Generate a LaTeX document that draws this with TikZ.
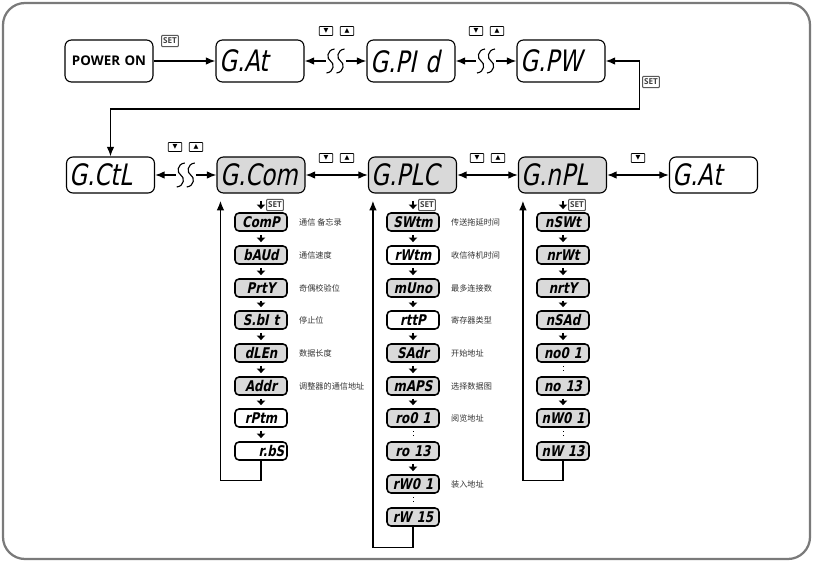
\documentclass[tikz,border=0pt]{standalone}
\usepackage{fontspec}
\setmainfont{Open Sans}
\newfontfamily\cjk{Noto Sans CJK SC}
\newfontfamily\symfont{DejaVu Sans}
\newfontfamily\segfont[FakeStretch=0.78, FakeSlant=0.2]{DejaVu Sans}
\newfontfamily\segbold[FakeStretch=0.8, FakeSlant=0.2]{DejaVu Sans Bold}
\usetikzlibrary{arrows.meta, calc}
\definecolor{dispgray}{HTML}{D9D9D9}
\definecolor{framegray}{HTML}{7A7A7A}

% arrow with the two S marks in the middle
\newcommand{\brkline}[3]{%
  \path (#1.east) -- (#2.west) coordinate[midway] (#3);
  \draw[link, ->] ($(#3)+(-10,0)$) -- (#1.east);
  \draw[link, ->] ($(#3)+(10,0)$) -- (#2.west);
  \draw[line width=0.8pt]
    ($(#3)+(-1,-12)$) .. controls ($(#3)+(-9,-11)$) and ($(#3)+(-9,-2)$) .. ($(#3)+(-5,0)$)
    .. controls ($(#3)+(-1,2)$) and ($(#3)+(-1,11)$) .. ($(#3)+(-9,12)$)
    ($(#3)+(9,-12)$) .. controls ($(#3)+(1,-11)$) and ($(#3)+(1,-2)$) .. ($(#3)+(5,0)$)
    .. controls ($(#3)+(9,2)$) and ($(#3)+(9,11)$) .. ($(#3)+(1,12)$);
}

\begin{document}
\begin{tikzpicture}[x=0.25mm, y=-0.25mm,
    >={Latex[length=2.4mm, width=1.9mm]},
    disp/.style={draw, rounded corners=1.6mm, line width=0.8pt, fill=white,
                 minimum width=22mm, minimum height=10.5mm, inner sep=0pt,
                 text width=20.4mm, align=left,
                 font=\segfont\fontsize{21}{21}\selectfont},
    low/.style={minimum height=9mm},
    lit/.style={fill=dispgray},
    start/.style={disp, align=center, font=\bfseries\fontsize{9.5}{9.5}\selectfont},
    sub/.style={draw, rounded corners=1mm, line width=1.1pt, fill=white,
                minimum width=13mm, minimum height=4.5mm, inner sep=0pt,
                text width=11.6mm, align=center,
                font=\segbold\fontsize{10.5}{10.5}\selectfont},
    note/.style={anchor=west, xshift=1.6mm, text=black!80,
                 font=\cjk\fontsize{5.8}{6}\selectfont},
    keybtn/.style={draw, rounded corners=0.5pt, line width=0.5pt,
                   minimum width=3.4mm, minimum height=2.3mm, inner sep=0pt,
                   font=\symfont\fontsize{4.5}{4.5}\selectfont},
    setbtn/.style={draw=black!65, rounded corners=0.6pt, line width=0.7pt,
                   minimum width=4.2mm, minimum height=2.8mm, inner sep=0pt,
                   text=black!75, font=\bfseries\fontsize{5.8}{5.8}\selectfont},
    link/.style={line width=1pt},
    dnarrow/.style={line width=1.7pt, -{Triangle[length=1.1mm, width=2.1mm]},
                    shorten <=0.8mm, shorten >=0.8mm},
    skip/.style={dotted, line width=0.7pt, shorten <=0.9mm, shorten >=0.9mm}
  ]
    \useasboundingbox (0,0) rectangle (813,561);
    \draw[framegray, line width=1.6pt, rounded corners=5.5mm] (3,3) rectangle (810,559);

    % first row
    \node[start] (pwr) at (109,61) {POWER ON};
    \node[disp] (gat) at (260,61) {G.At};
    \node[disp] (gpid) at (411,61) {G.PI d};
    \node[disp] (gpw) at (561,61) {G.PW};

    \draw[link, ->] (pwr) -- (gat);
    \node[setbtn] (set1) at (170,41) {SET};
    \brkline{gat}{gpid}{brk1}
    \brkline{gpid}{gpw}{brk2}
    \node[keybtn] (dn1) at (326,31) {▼};
    \node[keybtn] (up1) at (347,31) {▲};
    \node[keybtn] (dn2) at (476,31) {▼};
    \node[keybtn] (up2) at (497,31) {▲};

    % second row
    \node[disp, low] (gctl) at (110.5,175) {G.CtL};
    \node[disp, low, lit] (gcom) at (261,175) {G.Com};
    \node[disp, low, lit] (gplc) at (412.5,175) {G.PLC};
    \node[disp, low, lit] (gnpl) at (562.5,175) {G.nPL};
    \node[disp, low] (gatb) at (713.5,175) {G.At};

    \draw[link, <->] (gpw.east) -- ++(34,0) -- ++(0,48) -| (gctl.north);
    \node[setbtn] (set2) at (651,82) {SET};

    \brkline{gctl}{gcom}{brk3}
    \node[keybtn] (dn3) at (175,147) {▼};
    \node[keybtn] (up3) at (196,147) {▲};
    \draw[link, <->] (gcom) -- (gplc);
    \node[keybtn] (dn4) at (326,158) {▼};
    \node[keybtn] (up4) at (347,158) {▲};
    \draw[link, <->] (gplc) -- (gnpl);
    \node[keybtn] (dn5) at (477,158) {▼};
    \node[keybtn] (up5) at (498,158) {▲};
    \draw[link, <->] (gnpl) -- (gatb);
    \node[keybtn] (dn6) at (638,158) {▼};

    % communication column
    \node[sub, lit] (com1) at (261,222) {ComP};
    \node[sub, lit] (com2) at (261,255) {bAUd};
    \node[sub, lit] (com3) at (261,288) {PrtY};
    \node[sub, lit] (com4) at (261,320) {S.bI t};
    \node[sub, lit] (com5) at (261,353) {dLEn};
    \node[sub, lit] (com6) at (261,386) {Addr};
    \node[sub] (com7) at (261,418) {rPtm};
    \node[sub, align=right] (com8) at (261,451) {r.bS};

    \node[note] (com1t) at (com1.east) {通信\ 备忘录};
    \node[note] (com2t) at (com2.east) {通信速度};
    \node[note] (com3t) at (com3.east) {奇偶校验位};
    \node[note] (com4t) at (com4.east) {停止位};
    \node[note] (com5t) at (com5.east) {数据长度};
    \node[note] (com6t) at (com6.east) {调整器的通信地址};

    \draw[dnarrow, shorten <=1.8mm] (gcom) -- (com1);
    \node[setbtn] (set3) at (275,205) {SET};
    \draw[dnarrow] (com1) -- (com2);
    \draw[dnarrow] (com2) -- (com3);
    \draw[dnarrow] (com3) -- (com4);
    \draw[dnarrow] (com4) -- (com5);
    \draw[dnarrow] (com5) -- (com6);
    \draw[dnarrow] (com6) -- (com7);
    \draw[dnarrow] (com7) -- (com8);
    \draw[link, ->, shorten >=1.8mm] (com8.south) -- ++(0,20) -| ($(gcom.south west)+(4,0)$);

    % plc column
    \node[sub, lit] (plc1) at (413,222) {SWtm};
    \node[sub] (plc2) at (413,255) {rWtm};
    \node[sub, lit] (plc3) at (413,288) {mUno};
    \node[sub] (plc4) at (413,320) {rttP};
    \node[sub, lit] (plc5) at (413,353) {SAdr};
    \node[sub, lit] (plc6) at (413,386) {mAPS};
    \node[sub, lit] (plc7) at (413,418) {ro0 1};
    \node[sub, lit] (plc8) at (413,451) {ro 13};
    \node[sub, lit] (plc9) at (413,484) {rW0 1};
    \node[sub, lit] (plc10) at (413,517) {rW 15};

    \node[note] (plc1t) at (plc1.east) {传送拖延时间};
    \node[note] (plc2t) at (plc2.east) {收信待机时间};
    \node[note] (plc3t) at (plc3.east) {最多连接数};
    \node[note] (plc4t) at (plc4.east) {寄存器类型};
    \node[note] (plc5t) at (plc5.east) {开始地址};
    \node[note] (plc6t) at (plc6.east) {选择数据图};
    \node[note] (plc7t) at (plc7.east) {阅览地址};
    \node[note] (plc9t) at (plc9.east) {装入地址};

    \draw[dnarrow, shorten <=1.8mm] (gplc.south -| plc1) -- (plc1);
    \node[setbtn] (set4) at (427,205) {SET};
    \draw[dnarrow] (plc1) -- (plc2);
    \draw[dnarrow] (plc2) -- (plc3);
    \draw[dnarrow] (plc3) -- (plc4);
    \draw[dnarrow] (plc4) -- (plc5);
    \draw[dnarrow] (plc5) -- (plc6);
    \draw[dnarrow] (plc6) -- (plc7);
    \draw[skip] (plc7) -- (plc8);
    \draw[dnarrow] (plc8) -- (plc9);
    \draw[skip] (plc9) -- (plc10);
    \draw[link, ->, shorten >=1.8mm] (plc10.south) -- ++(0,21) -| ($(gplc.south west)+(5,0)$);

    % npl column
    \node[sub, lit] (npl1) at (563,222) {nSWt};
    \node[sub, lit] (npl2) at (563,255) {nrWt};
    \node[sub, lit] (npl3) at (563,288) {nrtY};
    \node[sub, lit] (npl4) at (563,320) {nSAd};
    \node[sub, lit] (npl5) at (563,353) {no0 1};
    \node[sub, lit] (npl6) at (563,386) {no 13};
    \node[sub, lit] (npl7) at (563,418) {nW0 1};
    \node[sub, lit] (npl8) at (563,451) {nW 13};

    \draw[dnarrow, shorten <=1.8mm] (gnpl.south -| npl1) -- (npl1);
    \node[setbtn] (set5) at (577,205) {SET};
    \draw[dnarrow] (npl1) -- (npl2);
    \draw[dnarrow] (npl2) -- (npl3);
    \draw[dnarrow] (npl3) -- (npl4);
    \draw[dnarrow] (npl4) -- (npl5);
    \draw[skip] (npl5) -- (npl6);
    \draw[dnarrow] (npl6) -- (npl7);
    \draw[skip] (npl7) -- (npl8);
    \draw[link, ->, shorten >=1.8mm] (npl8.south) -- ++(0,20) -| ($(gnpl.south west)+(5,0)$);
  \end{tikzpicture}
\end{document}
